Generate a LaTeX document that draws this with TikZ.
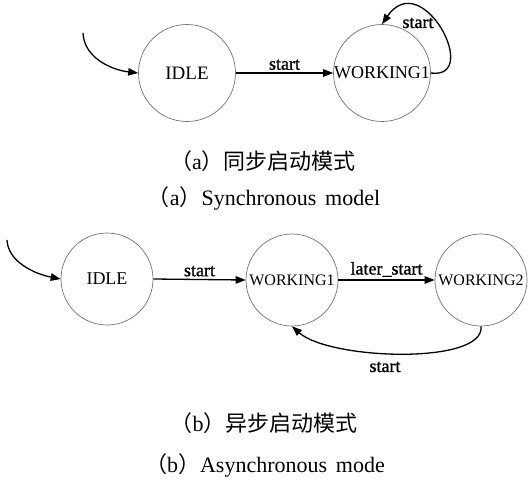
\documentclass[tikz,border=0pt]{standalone}
\usepackage{fontspec}
\setmainfont{Liberation Serif}[AutoFakeBold=1.2]
\newfontfamily\cjk{Noto Sans CJK SC}
\usetikzlibrary{arrows.meta}

\begin{document}
\begin{tikzpicture}[x=1pt,y=-1pt,
  state/.style={circle,draw=black!55,line width=0.7pt,inner sep=0pt},
  bigstate/.style={state,minimum size=97pt,font=\fontsize{18}{18}\selectfont},
  smallstate/.style={state,minimum size=92pt,font=\fontsize{16}{16}\selectfont},
  trans/.style={draw=black,line width=1.3pt,-{Triangle[length=10pt,width=7.5pt]}},
  elabel/.style={font=\fontsize{18}{18}\selectfont\bfseries,inner sep=2.5pt},
  caption/.style={font=\fontsize{22}{22}\selectfont,inner sep=0pt}]
\useasboundingbox (0,0) rectangle (529,482);

% --- synchronous start mode ---
\node[bigstate] (i1) at (187,73) {\fontsize{19}{19}\selectfont IDLE};
\node[bigstate] (w1) at (382,73) {WORKING1};
\coordinate (s1) at (83,33);
\draw[trans] (s1) .. controls (84,58) and (112,70) .. (i1.west);
\draw[trans] (i1.east) -- node[elabel,above] {start} (w1.west);
\draw[trans] (w1.east) .. controls (482,80) and (422,-34) .. (w1.north);
\node[elabel] (l1) at (418,23) {start};

\node[caption] (ca1) at (263,161) {{\cjk （}a{\cjk ）同步启动模式}};
\node[caption] (ca2) at (264,198) {{\cjk （}a{\cjk ）}Synchronous\hspace{0.4em}model};

% --- asynchronous start mode ---
\node[smallstate] (i2) at (107,279) {\fontsize{18}{18}\selectfont IDLE};
\node[smallstate] (w2) at (292,280) {WORKING1};
\node[smallstate] (w3) at (481,280) {WORKING2};
\coordinate (s2) at (7,240);
\draw[trans] (s2) .. controls (8,262) and (35,274) .. (i2.west);
\draw[trans] (i2.east) -- node[elabel,above] {start} (w2.west);
\draw[trans] (w2.east) -- node[elabel,above] {later\_start} (w3.west);
\draw[trans] (w3.south) .. controls (485,365) and (330,360) .. (w2.south);
\node[elabel] (l2) at (385,367) {start};

\node[caption] (cb1) at (264,423) {{\cjk （}b{\cjk ）异步启动模式}};
\node[caption] (cb2) at (265,465) {{\cjk （}b{\cjk ）}Asynchronous\hspace{0.4em}mode};
\end{tikzpicture}
\end{document}
